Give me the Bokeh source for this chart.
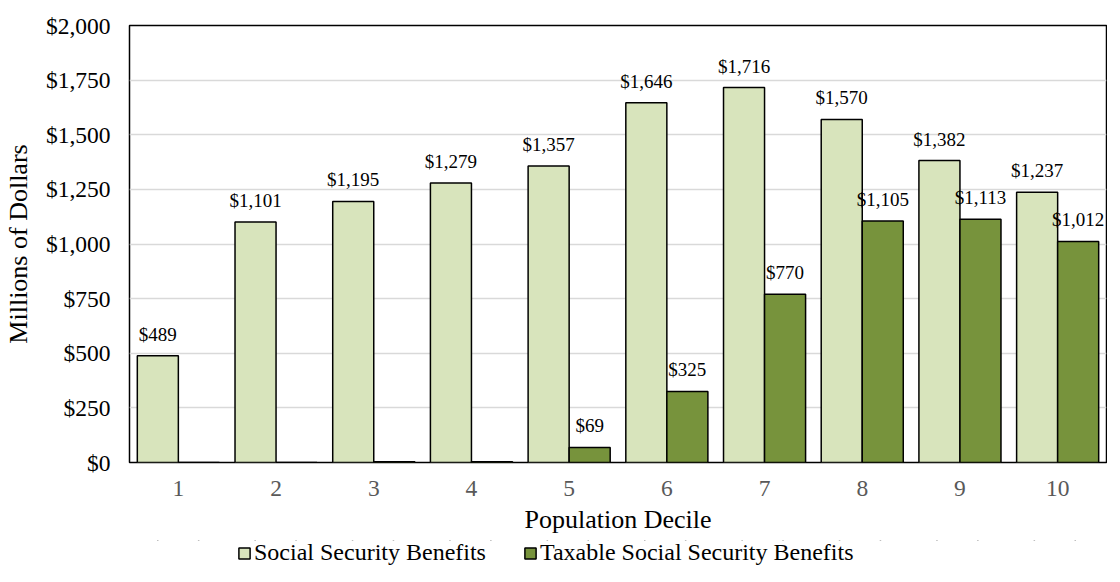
from bokeh.plotting import figure
from bokeh.layouts import column
from bokeh.models import ColumnDataSource, FactorRange, Legend, LegendItem, NumeralTickFormatter, FixedTicker
from bokeh.transform import dodge
from bokeh.core.properties import value
from bokeh.embed import file_html
from bokeh.resources import INLINE

deciles = ["1", "2", "3", "4", "5", "6", "7", "8", "9", "10"]
ss_benefits = [489, 1101, 1195, 1279, 1357, 1646, 1716, 1570, 1382, 1237]
taxable_benefits = [0, 0, 3, 3, 69, 325, 770, 1105, 1113, 1012]
y_ticks = [0, 250, 500, 750, 1000, 1250, 1500, 1750, 2000]
series_names = ["Social Security Benefits", "Taxable Social Security Benefits"]

FONT = "Liberation Serif"
LIGHT = "#d8e4bc"
DARK = "#77933c"

src = ColumnDataSource(dict(
    decile=deciles,
    ss=ss_benefits,
    tax=taxable_benefits,
    ss_lbl=["${:,}".format(v) for v in ss_benefits],
))
lbl_idx = [i for i, v in enumerate(taxable_benefits) if v >= 50]
tax_lbl_src = ColumnDataSource(dict(
    decile=[deciles[i] for i in lbl_idx],
    tax=[taxable_benefits[i] for i in lbl_idx],
    lbl=["${:,}".format(taxable_benefits[i]) for i in lbl_idx],
))

p = figure(
    x_range=FactorRange(*deciles), y_range=(0, 2000),
    width=1104, height=540, frame_width=977, frame_height=437,
    min_border_left=126, min_border_right=1, min_border_top=25, min_border_bottom=78,
    output_backend="svg", toolbar_location=None,
)
p.background_fill_color = "white"
p.border_fill_color = "white"
p.outline_line_color = "black"
p.outline_line_width = 1.5

w = 0.42
p.vbar(x=dodge("decile", -w / 2, range=p.x_range), top="ss", width=w, source=src,
       fill_color=LIGHT, line_color="black", line_width=1.5)
p.vbar(x=dodge("decile", w / 2, range=p.x_range), top="tax", width=w, source=src,
       fill_color=DARK, line_color="black", line_width=1.5)

p.text(x=dodge("decile", -w / 2, range=p.x_range), y="ss", text="ss_lbl", source=src,
       text_align="center", text_baseline="bottom", y_offset=-11,
       text_font=value(FONT), text_font_size="19px", text_color="black")
p.text(x=dodge("decile", w / 2, range=p.x_range), y="tax", text="lbl", source=tax_lbl_src,
       text_align="center", text_baseline="bottom", y_offset=-11,
       text_font=value(FONT), text_font_size="19px", text_color="black")

p.xgrid.grid_line_color = None
p.ygrid.grid_line_color = "#d9d9d9"
p.ygrid.grid_line_width = 1.5

p.yaxis.ticker = FixedTicker(ticks=y_ticks)
p.yaxis.formatter = NumeralTickFormatter(format="$0,0")
for ax in (p.xaxis[0], p.yaxis[0]):
    ax.major_tick_line_color = None
    ax.minor_tick_line_color = None
    ax.major_tick_out = 0
    ax.major_tick_in = 0
    ax.minor_tick_out = 0
    ax.minor_tick_in = 0
    ax.axis_line_color = None
    ax.major_label_text_font = FONT
    ax.major_label_text_font_size = "23.5px"
    ax.axis_label_text_font = FONT
    ax.axis_label_text_font_size = "26px"
    ax.axis_label_text_font_style = "normal"
    ax.axis_label_text_color = "black"
p.yaxis.major_label_text_color = "black"
p.xaxis.major_label_text_color = "#595959"
p.yaxis.major_label_standoff = 19
p.xaxis.major_label_standoff = 18
p.yaxis.axis_label = "Millions of Dollars"
p.xaxis.axis_label = "Population Decile"
p.yaxis.axis_label_standoff = 10
p.xaxis.axis_label_standoff = 6

# legend strip below the chart (its zero-width bars share the data but lie outside its y range)
lg = figure(width=1104, height=26, x_range=FactorRange(*deciles), y_range=(-2, -1),
            min_border=0, output_backend="svg", toolbar_location=None,
            x_axis_type=None, y_axis_type=None)
lg.outline_line_color = None
lg.xgrid.grid_line_color = None
lg.ygrid.grid_line_color = None
lg.background_fill_color = "white"
lg.border_fill_color = "white"
k1 = lg.vbar(x=dodge("decile", -w / 2, range=lg.x_range), top="ss", width=0, source=src,
             fill_color=LIGHT, line_color="black", line_width=1.5)
k2 = lg.vbar(x=dodge("decile", w / 2, range=lg.x_range), top="tax", width=0, source=src,
             fill_color=DARK, line_color="black", line_width=1.5)

legend = Legend(
    items=[LegendItem(label=series_names[0], renderers=[k1]),
           LegendItem(label=series_names[1], renderers=[k2])],
    orientation="horizontal", location=(108, 0),
    label_text_font=FONT, label_text_font_size="24px", label_text_color="black",
    label_height=22, glyph_width=14, glyph_height=14, spacing=37, padding=0, margin=0,
    label_standoff=3, border_line_color=None, background_fill_alpha=0,
)
lg.add_layout(legend, "center")

open("out.html", "w").write(file_html(column(p, lg), INLINE))
